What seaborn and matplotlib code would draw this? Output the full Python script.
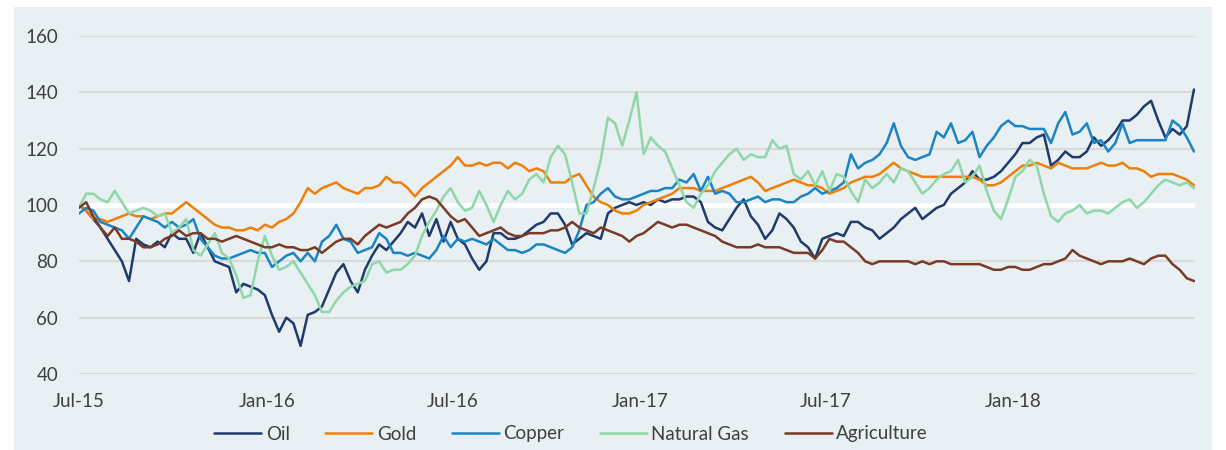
import numpy as np
import pandas as pd
import matplotlib
matplotlib.use("Agg")
import matplotlib.pyplot as plt
import matplotlib.dates as mdates
from matplotlib.patches import Rectangle
import seaborn as sns

# Weekly index levels (Jul-2015 = 100)
start_date = "2015-07-01"
n_weeks = 157

oil = [100, 98, 95, 92, 88, 84, 80, 73, 88, 86,
       85, 87, 85, 90, 88, 88, 83, 90, 85, 80,
       79, 78, 69, 72, 71, 70, 68, 61, 55, 60,
       58, 50, 61, 62, 64, 70, 76, 79, 73, 69,
       77, 82, 86, 84, 87, 90, 94, 92, 97, 89,
       95, 87, 94, 88, 86, 81, 77, 80, 90, 90,
       88, 88, 89, 91, 93, 94, 97, 97, 93, 86,
       88, 90, 89, 88, 97, 99, 100, 101, 100, 101,
       100, 102, 101, 102, 102, 103, 103, 101, 94, 92,
       91, 95, 99, 102, 96, 93, 88, 91, 97, 95,
       92, 87, 85, 81, 88, 89, 90, 89, 94, 94,
       92, 91, 88, 90, 92, 95, 97, 99, 95, 97,
       99, 100, 104, 106, 108, 112, 109, 109, 110, 112,
       115, 118, 122, 122, 124, 125, 114, 116, 119, 117,
       117, 119, 124, 121, 123, 126, 130, 130, 132, 135,
       137, 130, 124, 127, 125, 128, 141]

gold = [100, 98, 95, 95, 94, 95, 96, 97, 96, 96,
        95, 96, 97, 97, 99, 101, 99, 97, 95, 93,
        92, 92, 91, 91, 92, 91, 93, 92, 94, 95,
        97, 101, 106, 104, 106, 107, 108, 106, 105, 104,
        106, 106, 107, 110, 108, 108, 106, 103, 106, 108,
        110, 112, 114, 117, 114, 114, 115, 114, 115, 115,
        113, 115, 114, 112, 113, 112, 108, 108, 108, 110,
        111, 107, 103, 101, 100, 98, 97, 97, 98, 100,
        101, 102, 103, 104, 106, 106, 106, 105, 105, 105,
        106, 107, 108, 109, 110, 108, 105, 106, 107, 108,
        109, 108, 107, 107, 106, 104, 105, 106, 108, 109,
        110, 110, 111, 113, 115, 113, 112, 111, 110, 110,
        110, 110, 110, 110, 110, 110, 109, 107, 107, 108,
        110, 112, 114, 114, 115, 114, 113, 115, 114, 113,
        113, 113, 114, 115, 114, 114, 115, 113, 113, 112,
        110, 111, 111, 111, 110, 109, 107]

copper = [97, 99, 98, 94, 93, 92, 91, 88, 92, 96,
          95, 94, 92, 94, 92, 93, 95, 88, 85, 82,
          81, 81, 82, 83, 84, 83, 83, 78, 80, 82,
          83, 80, 83, 80, 87, 89, 93, 88, 87, 83,
          84, 85, 90, 88, 83, 83, 82, 83, 82, 81,
          84, 89, 85, 88, 87, 88, 87, 86, 88, 86,
          84, 84, 83, 84, 86, 86, 85, 84, 83, 85,
          91, 100, 101, 104, 106, 103, 102, 102, 103, 104,
          105, 105, 106, 106, 109, 108, 111, 105, 110, 104,
          105, 104, 101, 101, 102, 103, 101, 102, 102, 101,
          101, 103, 104, 106, 104, 105, 106, 108, 118, 113,
          115, 116, 118, 122, 129, 121, 117, 116, 117, 118,
          126, 124, 129, 122, 123, 126, 117, 121, 124, 128,
          130, 128, 128, 127, 127, 127, 122, 129, 133, 125,
          126, 129, 122, 123, 119, 122, 129, 122, 123, 123,
          123, 123, 123, 130, 128, 124, 119]

natural_gas = [99, 104, 104, 102, 101, 105, 101, 97, 98, 99,
               98, 96, 97, 90, 92, 95, 84, 82, 86, 90,
               83, 81, 75, 67, 68, 80, 89, 82, 77, 78,
               80, 76, 72, 68, 62, 62, 66, 69, 71, 72,
               73, 79, 80, 76, 77, 77, 79, 82, 89, 94,
               98, 103, 106, 101, 98, 99, 105, 100, 94, 100,
               105, 102, 104, 109, 111, 108, 117, 121, 118, 108,
               97, 97, 106, 116, 131, 129, 121, 130, 140, 118,
               124, 121, 119, 113, 107, 101, 99, 104, 107, 112,
               115, 118, 120, 116, 118, 117, 117, 123, 120, 121,
               111, 109, 112, 107, 112, 105, 111, 110, 105, 101,
               109, 106, 108, 111, 108, 113, 112, 108, 104, 106,
               109, 111, 112, 116, 108, 110, 114, 105, 98, 95,
               102, 110, 112, 116, 114, 104, 96, 94, 97, 98,
               100, 97, 98, 98, 97, 99, 101, 102, 99, 101,
               104, 107, 109, 108, 107, 108, 106]

agriculture = [99, 101, 96, 92, 89, 92, 88, 88, 87, 85,
               85, 86, 88, 89, 91, 89, 90, 90, 88, 88,
               87, 88, 89, 88, 87, 86, 85, 85, 86, 85,
               85, 84, 84, 85, 83, 85, 87, 88, 88, 86,
               89, 91, 93, 92, 93, 94, 97, 99, 102, 103,
               102, 99, 96, 94, 95, 92, 89, 90, 91, 92,
               90, 89, 89, 90, 90, 90, 91, 91, 92, 94,
               92, 91, 90, 92, 91, 90, 89, 87, 89, 90,
               92, 94, 93, 92, 93, 93, 92, 91, 90, 89,
               87, 86, 85, 85, 85, 86, 85, 85, 85, 84,
               83, 83, 83, 81, 84, 88, 87, 87, 85, 83,
               80, 79, 80, 80, 80, 80, 80, 79, 80, 79,
               80, 80, 79, 79, 79, 79, 79, 78, 77, 77,
               78, 78, 77, 77, 78, 79, 79, 80, 81, 84,
               82, 81, 80, 79, 80, 80, 80, 81, 80, 79,
               81, 82, 82, 79, 77, 74, 73]

series_names = ["Oil", "Gold", "Copper", "Natural Gas", "Agriculture"]
series_colors = ["#1f3b6b", "#f07f09", "#1b84c4", "#8fd6a8", "#7a3a25"]

dates = pd.date_range(start_date, periods=n_weeks, freq="7D")
frames = []
for name, vals in zip(series_names, [oil, gold, copper, natural_gas, agriculture]):
    frames.append(pd.DataFrame({"date": dates, "value": vals, "series": name}))
df = pd.concat(frames, ignore_index=True)

sns.set_style("white")
plt.rcParams["font.family"] = ["Lato", "DejaVu Sans"]
text_color = "#3f3f3f"
panel_color = "#e8f0f3"

fig = plt.figure(figsize=(12.26, 4.5), dpi=100)
fig.patch.set_facecolor("white")
panel = Rectangle((14 / 1226, 0), (1212 - 14) / 1226, (450 - 7) / 450,
                  transform=fig.transFigure, facecolor=panel_color,
                  edgecolor="none", zorder=-10)
fig.add_artist(panel)

ax = fig.add_axes([79 / 1226, 1 - 374 / 450, (1195 - 79) / 1226, (374 - 36) / 450])
ax.set_zorder(1)
ax.set_facecolor("none")

# gridlines, with the 100 line in white
for yv in [40, 60, 80, 120, 140, 160]:
    ax.axhline(yv, color="#d9d9d9", lw=1.5, zorder=0)
ax.axhline(100, color="white", lw=3.5, zorder=0)

sns.lineplot(data=df, x="date", y="value", hue="series", hue_order=series_names,
             palette=series_colors, estimator=None, linewidth=1.8, ax=ax, legend=True)

ax.set_ylim(40, 160)
ax.set_xlim(pd.Timestamp("2015-07-01"), pd.Timestamp("2018-06-28"))
ax.set_yticks([40, 60, 80, 100, 120, 140, 160])
ax.xaxis.set_major_locator(mdates.MonthLocator(bymonth=[1, 7]))
ax.xaxis.set_major_formatter(mdates.DateFormatter("%b-%y"))
ax.set_xlabel("")
ax.set_ylabel("")
for s in ax.spines.values():
    s.set_visible(False)
ax.tick_params(axis="both", length=0, labelsize=13.5, labelcolor=text_color)
ax.tick_params(axis="y", pad=15)
ax.tick_params(axis="x", pad=14)

handles, labels = ax.get_legend_handles_labels()
ax.get_legend().remove()
leg = fig.legend(handles, labels, loc="center", bbox_to_anchor=(571 / 1226, 1 - 434 / 450),
                 ncol=5, frameon=False, fontsize=13.5, handlelength=2.5,
                 handletextpad=0.25, columnspacing=1.9)
for t in leg.get_texts():
    t.set_color(text_color)

fig.savefig("out.png", dpi=100, facecolor=fig.get_facecolor())
